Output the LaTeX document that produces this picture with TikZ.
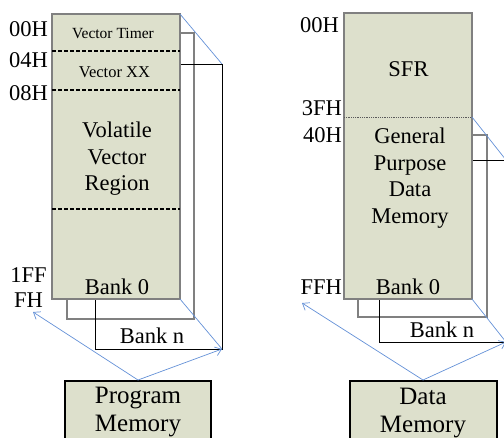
\documentclass[tikz,border=0pt]{standalone}
\usepackage{fontspec}
\setmainfont{Liberation Serif}
\usetikzlibrary{arrows.meta}
\definecolor{memfill}{RGB}{221,224,204}
\definecolor{linkblue}{RGB}{100,145,215}
\definecolor{midgray}{RGB}{128,128,128}
\begin{document}
\begin{tikzpicture}[x=1pt,y=-1pt,
  mainbox/.style={fill=memfill,draw=midgray,line width=1.2pt},
  graybank/.style={draw=midgray,line width=1.5pt},
  blackbank/.style={draw=black,line width=1pt},
  membox/.style={fill=memfill,draw=black,line width=2pt},
  sep/.style={draw=black,line width=1.3pt,dash pattern=on 3.5pt off 2.5pt},
  dotsep/.style={draw=midgray!70!black,line width=0.9pt,dash pattern=on 1pt off 0.8pt},
  bluelink/.style={draw=linkblue,line width=0.7pt},
  bluearrow/.style={bluelink,-{Straight Barb[length=6pt,width=9pt,line width=0.7pt]}},
  addr/.style={inner sep=0pt,font=\fontsize{22.5}{25}\selectfont},
  big/.style={inner sep=0pt,align=center,font=\fontsize{22.5}{26.5}\selectfont},
  title/.style={inner sep=0pt,align=center,font=\fontsize{25}{28}\selectfont}]
\useasboundingbox (0,0) rectangle (504,437);
\clip (0,0) rectangle (504,437);
% ---------------- left: program memory ----------------
\coordinate (LGtl) at (67,33);  \coordinate (LGbr) at (194,319);
\coordinate (LCtl) at (95,64);  \coordinate (LCbr) at (222,349);
\coordinate (LCtr) at (222,64);
\coordinate (LMtl) at (52,14);  \coordinate (LMbr) at (180,299);
\coordinate (LMtr) at (180,14);
\draw[graybank] (LGtl) rectangle (LGbr);
\draw[blackbank] (LCtl) rectangle (LCbr);
\draw[mainbox] (LMtl) rectangle (LMbr);
\coordinate (LD1a) at (52,51);  \coordinate (LD1b) at (180,51);
\coordinate (LD2a) at (52,90);  \coordinate (LD2b) at (180,90);
\coordinate (LD3a) at (52,209); \coordinate (LD3b) at (180,209);
\draw[sep] (LD1a) -- (LD1b);
\draw[sep] (LD2a) -- (LD2b);
\draw[sep] (LD3a) -- (LD3b);
\node[inner sep=0pt,font=\fontsize{15.5}{18}\selectfont] (vtimer) at (113,33) {Vector Timer};
\node[inner sep=0pt,font=\fontsize{16.5}{19}\selectfont] (vxx) at (114.5,72) {Vector XX};
\node[big] (volatile) at (117,159) {Volatile\\Vector\\Region};
\node[big] (lbank0) at (117,287) {Bank 0};
\node[big] (lbankn) at (152,336) {Bank n};
\node[addr,anchor=east] (l00) at (48,29.5) {00H};
\node[addr,anchor=east] (l04) at (48,60.5) {04H};
\node[addr,anchor=east] (l08) at (48,93.5) {08H};
\node[addr,align=center] (l1ff) at (28.5,288) {1FF\\FH};
\coordinate (LPMtl) at (65,381); \coordinate (LPMbr) at (211,450);
\draw[membox] (LPMtl) rectangle (LPMbr);
\node[title] (pm) at (138,412) {Program\\Memory};
\coordinate (LPMtop) at (138,380);
\coordinate (Lleft) at (33,312);
\draw[bluelink] (LMtr) -- (LCtr);
\draw[bluelink] (LMbr) -- (LCbr);
\draw[bluearrow] (LPMtop) -- (Lleft);
\draw[bluearrow] (LPMtop) -- (LCbr);
% ---------------- right: data memory ----------------
\coordinate (RGtl) at (358,135); \coordinate (RGbr) at (487,317);
\coordinate (RCtl) at (379,160); \coordinate (RCbr) at (506,342);
\coordinate (RCtr) at (506,160);
\coordinate (RMtl) at (344,13);  \coordinate (RMbr) at (472,299);
\draw[graybank] (RGtl) rectangle (RGbr);
\draw[blackbank] (RCtl) rectangle (RCbr);
\draw[mainbox] (RMtl) rectangle (RMbr);
\coordinate (RDa) at (344,117); \coordinate (RDb) at (472,117);
\draw[dotsep] (RDa) -- (RDb);
\node[big] (sfr) at (408.5,69) {SFR};
\node[big] (gpdm) at (410,178) {General\\Purpose\\Data\\Memory};
\node[big] (rbank0) at (408,287) {Bank 0};
\node[big] (rbankn) at (442,330) {Bank n};
\node[addr,anchor=east] (r00) at (339,25) {00H};
\node[addr,anchor=east] (r3f) at (342,108.5) {3FH};
\node[addr,anchor=east] (r40) at (342,135) {40H};
\node[addr,anchor=east] (rff) at (342,287) {FFH};
\coordinate (RDMtl) at (350,381); \coordinate (RDMbr) at (497,450);
\draw[membox] (RDMtl) rectangle (RDMbr);
\node[title] (dm) at (423,413) {Data\\Memory};
\coordinate (RDMtop) at (423,380);
\coordinate (Rleft) at (302,303);
\draw[bluelink] (RDb) -- (RCtr);
\draw[bluelink] (RMbr) -- (RCbr);
\draw[bluearrow] (RDMtop) -- (Rleft);
\draw[bluearrow] (RDMtop) -- (RCbr);
\end{tikzpicture}
\end{document}
